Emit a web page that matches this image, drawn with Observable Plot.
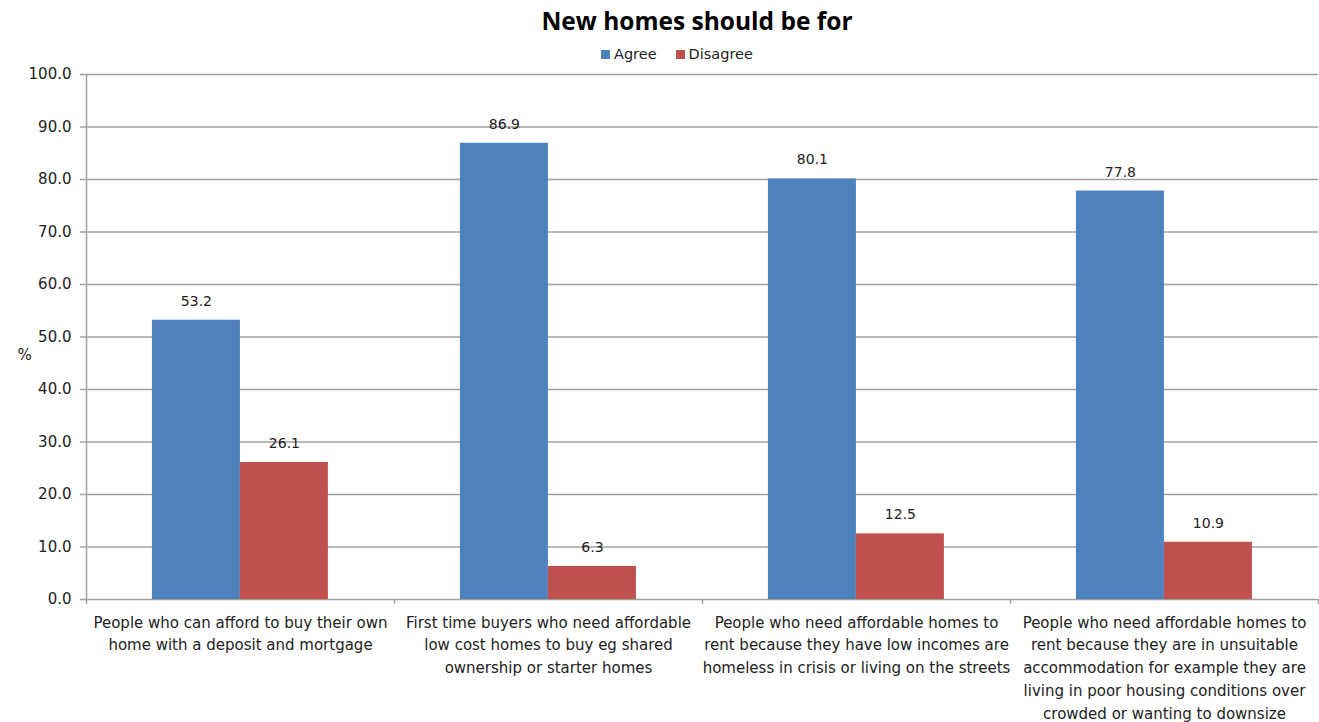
<!DOCTYPE html>
<html>
<head>
<meta charset="utf-8">
<script src="https://cdn.jsdelivr.net/npm/d3@7"></script>
<script src="https://cdn.jsdelivr.net/npm/@observablehq/plot@0.6"></script>
<style>
  html, body { margin: 0; padding: 0; background: #fff; }
  body { width: 1319px; height: 722px; position: relative; overflow: hidden; font-family: "DejaVu Sans", sans-serif; }
  #title { position: absolute; left: 0; width: 1394px; top: 4px; text-align: center; font-family: "Open Sans", sans-serif; font-weight: bold; font-size: 24.5px; color: #000; }
  #legend { position: absolute; left: 601px; top: 46px; font-size: 14.5px; color: #222; display: flex; align-items: center; }
  #legend .sw { display: inline-block; width: 9px; height: 9px; margin-right: 4px; }
  #legend .item { display: flex; align-items: center; margin-right: 19px; }
  #chart { position: absolute; left: 0; top: 64px; }
  #chart svg g[aria-label="y-axis"] text, #chart svg g[aria-label="y-axis tick label"] text { font-size: 15px; fill: #222; }
  #chart svg g[aria-label="y-axis"] line, #chart svg g[aria-label="y-axis tick"] path { stroke: #a0a0a0; stroke-width: 1.5px; }
</style>
</head>
<body>
<div id="title">New homes should be for</div>
<div id="legend"></div>
<div id="chart"></div>
<script>
const categories = [
  "People who can afford to buy their own\nhome with a deposit and mortgage",
  "First time buyers who need affordable\nlow cost homes to buy eg shared\nownership or starter homes",
  "People who need affordable homes to\nrent because they have low incomes are\nhomeless in crisis or living on the streets",
  "People who need affordable homes to\nrent because they are in unsuitable\naccommodation for example they are\nliving in poor housing conditions over\ncrowded or wanting to downsize"
];
const series = ["Agree", "Disagree"];
const agree = [53.2, 86.9, 80.1, 77.8];
const disagree = [26.1, 6.3, 12.5, 10.9];
const colors = ["#4F81BD", "#C0504D"];
const yTicks = [0, 10, 20, 30, 40, 50, 60, 70, 80, 90, 100];
const title = "New homes should be for";
const yLabel = "%";

document.getElementById("title").textContent = title;
const leg = document.getElementById("legend");
series.forEach((s, i) => {
  const it = document.createElement("span");
  it.className = "item";
  it.innerHTML = `<span class="sw" style="background:${colors[i]}"></span><span>${s}</span>`;
  leg.appendChild(it);
});

const rows = [];
categories.forEach((c, i) => {
  rows.push({cat: c, series: "Agree", value: agree[i]});
  rows.push({cat: c, series: "Disagree", value: disagree[i]});
});
const agreeRows = rows.filter(d => d.series === "Agree");
const disRows = rows.filter(d => d.series === "Disagree");

const W = 1319, H = 658;
const mL = 86, mR = 1, mT = 10, mB = 123;
const step = (W - mL - mR) / categories.length;
const gap = step * 0.214;
const barW = step * 0.2857;
const grey = "#a0a0a0";

const chart = Plot.plot({
  width: W,
  height: H,
  marginLeft: mL,
  marginRight: mR,
  marginTop: mT,
  marginBottom: mB,
  style: {fontFamily: "DejaVu Sans, sans-serif", fontSize: "15px", color: "#222", background: "#fff", overflow: "visible"},
  x: {domain: categories, padding: 0, axis: null},
  y: {domain: [0, 100], ticks: yTicks, tickFormat: d => d.toFixed(1), tickSize: 6, tickPadding: 9, label: null, grid: false},
  marks: [
    Plot.ruleY(yTicks, {y: d => d, stroke: grey, strokeWidth: 1.5, strokeOpacity: 1}),
    Plot.barY(agreeRows, {x: "cat", y: "value", fill: colors[0], insetLeft: gap, insetRight: step - gap - barW}),
    Plot.barY(disRows, {x: "cat", y: "value", fill: colors[1], insetLeft: gap + barW, insetRight: step - gap - 2 * barW}),
    Plot.ruleX([categories[0]], {x: d => d, dx: -step / 2, stroke: grey, strokeWidth: 1.5, insetBottom: -5}),
    Plot.ruleX(categories, {x: d => d, dx: step / 2, stroke: grey, strokeWidth: 1.5, insetTop: H - mT - mB, insetBottom: -5}),
    Plot.text(agreeRows, {x: "cat", y: "value", text: d => d.value.toFixed(1), dx: gap + barW / 2 - step / 2, dy: -19, fill: "#222", fontSize: 14}),
    Plot.text(disRows, {x: "cat", y: "value", text: d => d.value.toFixed(1), dx: gap + 1.5 * barW - step / 2, dy: -19, fill: "#222", fontSize: 14}),
    Plot.text(categories, {x: d => d, y: 0, text: d => d, dy: 12, lineAnchor: "top", lineHeight: 1.52, fill: "#222", fontSize: 15}),
    Plot.text([yLabel], {frameAnchor: "left", dx: -69, dy: 18, text: d => d, fill: "#222", fontSize: 15})
  ]
});
document.getElementById("chart").appendChild(chart);
</script>
</body>
</html>
